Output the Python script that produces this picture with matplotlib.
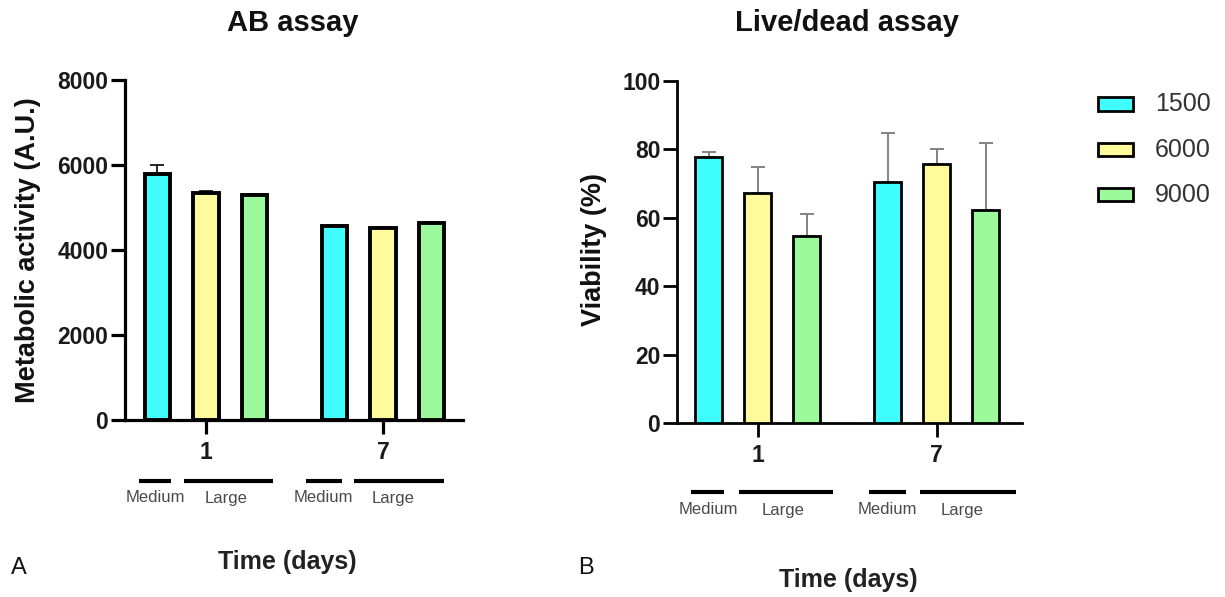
import matplotlib
matplotlib.use("Agg")
import matplotlib.pyplot as plt
from matplotlib.lines import Line2D
from matplotlib.patches import Rectangle
import numpy as np

plt.rcParams['font.family'] = ['Liberation Sans', 'DejaVu Sans']

# ---- data ----
days = ["1", "7"]
densities = ["1500", "6000", "9000"]
colors = ["#40FEFE", "#FFFA9C", "#9CFA9C"]

ab_mean = {"1500": [5780, 4560], "6000": [5330, 4520], "9000": [5300, 4640]}
ab_err = {"1500": [210, 25], "6000": [60, 15], "9000": [25, 20]}

ld_mean = {"1500": [77.9, 70.6], "6000": [67.2, 75.7], "9000": [54.7, 62.3]}
ld_err = {"1500": [1.4, 14.3], "6000": [7.7, 4.4], "9000": [6.3, 19.5]}

group_pos = np.array([0.0, 3.65])
offsets = [-1.0, 0.0, 1.0]

W, H = 1225, 597
fig = plt.figure(figsize=(W / 100, H / 100), dpi=100)


def fx(px):
    return px / W


def fy(py):
    return 1 - py / H


def make_axes(x0, x1, ytop, ybot):
    return fig.add_axes([fx(x0), fy(ybot), fx(x1) - fx(x0), fy(ytop) - fy(ybot)])


def style(ax, lw):
    for s in ["top", "right"]:
        ax.spines[s].set_visible(False)
    for s in ["left", "bottom"]:
        ax.spines[s].set_linewidth(lw)
    ax.tick_params(direction="out", length=10, width=lw, labelsize=16.5, pad=2)
    for lab in ax.get_xticklabels() + ax.get_yticklabels():
        lab.set_fontweight("bold")
        lab.set_color("#1a1a1a")


# ---- Panel A ----
axA = make_axes(125, 463, 80, 420)
for i, d in enumerate(densities):
    x = group_pos + offsets[i]
    axA.bar(x, ab_mean[d], width=0.52, color=colors[i], edgecolor="black",
            linewidth=2.8, zorder=3)
    axA.errorbar(x, ab_mean[d], yerr=[np.zeros(2), ab_err[d]], fmt="none",
                 ecolor="black", elinewidth=1.2, capsize=5, capthick=1.2, zorder=2)
axA.set_xlim(-1.67, 5.30)
axA.set_ylim(0, 8000)
axA.set_yticks([0, 2000, 4000, 6000, 8000])
axA.set_xticks(group_pos)
axA.set_xticklabels(days)
style(axA, 2.3)
axA.tick_params(axis="x", pad=5)

# ---- Panel B ----
axB = make_axes(677, 1022, 81, 423)
for i, d in enumerate(densities):
    x = group_pos + offsets[i]
    axB.bar(x, ld_mean[d], width=0.55, color=colors[i], edgecolor="black",
            linewidth=2.0, zorder=3)
    axB.errorbar(x, ld_mean[d], yerr=[np.zeros(2), ld_err[d]], fmt="none",
                 ecolor="#7a7a7a", elinewidth=1.3, capsize=5, capthick=1.3, zorder=2)
axB.set_xlim(-1.65, 5.39)
axB.set_ylim(0, 100)
axB.set_yticks([0, 20, 40, 60, 80, 100])
axB.set_xticks(group_pos)
axB.set_xticklabels(days)
style(axB, 2.0)
axB.tick_params(axis="x", pad=5)

# ---- titles & labels ----
fig.text(fx(293), fy(23), "AB assay", ha="center", va="center",
         fontsize=21, fontweight="bold", color="#111")
fig.text(fx(847), fy(23), "Live/dead assay", ha="center", va="center",
         fontsize=21, fontweight="bold", color="#111")
fig.text(fx(28), fy(250), "Metabolic activity (A.U.)", rotation=90, ha="center",
         va="center", fontsize=19.5, fontweight="bold", color="#111")
fig.text(fx(594), fy(250), "Viability (%)", rotation=90, ha="center",
         va="center", fontsize=19.5, fontweight="bold", color="#111")
fig.text(fx(287), fy(562), "Time (days)", ha="center", va="center",
         fontsize=18, fontweight="bold", color="#222")
fig.text(fx(848), fy(580), "Time (days)", ha="center", va="center",
         fontsize=18, fontweight="bold", color="#222")
fig.text(fx(19), fy(568), "A", ha="center", va="center", fontsize=17, color="#111")
fig.text(fx(586), fy(568), "B", ha="center", va="center", fontsize=17, color="#111")

# ---- group annotation lines ----
annA_y, annA_t = 481, 498
annB_y, annB_t = 492, 510
segsA = [(139, 171, "Medium", 155), (184, 273, "Large", 226),
         (306, 342, "Medium", 323), (354, 444, "Large", 393)]
segsB = [(691, 724, "Medium", 708), (739, 833, "Large", 783),
         (869, 906, "Medium", 887), (920, 1016, "Large", 962)]
for segs, ly, ty in [(segsA, annA_y, annA_t), (segsB, annB_y, annB_t)]:
    for x0, x1, lab, tx in segs:
        fig.add_artist(Line2D([fx(x0), fx(x1)], [fy(ly), fy(ly)], color="black",
                              linewidth=3.0, solid_capstyle="butt"))
        fig.text(fx(tx), fy(ty), lab, ha="center", va="center", fontsize=12,
                 color="#4a4a4a")

# ---- legend ----
leg_y = [104, 150, 195]
for i, d in enumerate(densities):
    fig.add_artist(Rectangle((fx(1098), fy(leg_y[i] + 6.5)), fx(35), 13 / H,
                             facecolor=colors[i], edgecolor="black", linewidth=2.0))
    fig.text(fx(1155), fy(leg_y[i]), d, ha="left", va="center", fontsize=18,
             color="#333")

fig.savefig("out.png", dpi=100)
